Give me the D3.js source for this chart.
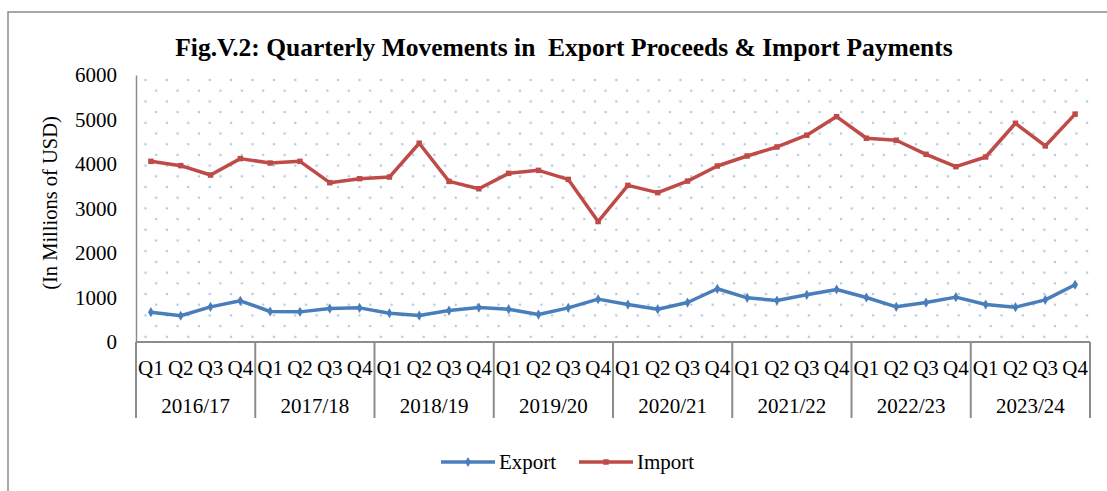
<!DOCTYPE html>
<html>
<head>
<meta charset="utf-8">
<script src="https://cdn.jsdelivr.net/npm/d3@7"></script>
<style>
    body { margin: 0; background: #fff; }
    svg text { font-family: "Liberation Serif", "Times New Roman", serif; fill: #000; }
</style>
</head>
<body>
<div id="chart"></div>
<script>
const WIDTH  = 1107
const HEIGHT = 491

const years    = ['2016/17', '2017/18', '2018/19', '2019/20', '2020/21', '2021/22', '2022/23', '2023/24']
const quarters = ['Q1', 'Q2', 'Q3', 'Q4']
const yTicks   = [0, 1000, 2000, 3000, 4000, 5000, 6000]

const exportValues = [
    670, 590, 790, 925,
    685, 677, 752, 767,
    647, 594, 707, 774,
    737, 617, 767, 963,
    842, 737, 887, 1196,
    993, 932, 1060, 1180,
    1000, 790, 887, 1008,
    842, 782, 947, 1286
]

const importValues = [
    4060, 3963, 3752, 4121,
    4022, 4060, 3580, 3670,
    3707, 4467, 3609, 3444,
    3790, 3857, 3654, 2707,
    3520, 3356, 3616, 3955,
    4180, 4383, 4647, 5065,
    4579, 4534, 4218, 3940,
    4158, 4915, 4406, 5120
]

const series = [
    { name: 'Export', values: exportValues, color: '#4a7ebb', marker: d3.symbolDiamond },
    { name: 'Import', values: importValues, color: '#be4b48', marker: d3.symbolSquare }
]

const categories = years.flatMap(y => quarters.map(q => ({ year: y, quarter: q, key: y + ' ' + q })))

const plot = { left: 136, right: 1090, top: 75, bottom: 342 }

const svg = d3.select('#chart').append('svg')
    .attr('width', WIDTH)
    .attr('height', HEIGHT)

// outer frame, cut off on the right and bottom like the source
svg.append('rect')
    .attr('x', 8).attr('y', 12)
    .attr('width', WIDTH).attr('height', HEIGHT)
    .attr('fill', '#fff')
    .attr('stroke', '#8c8c8c')
    .attr('stroke-width', 1.5)

const x = d3.scaleBand()
    .domain(categories.map(d => d.key))
    .range([plot.left, plot.right])

const xYear = d3.scaleBand()
    .domain(years)
    .range([plot.left, plot.right])

const y = d3.scaleLinear()
    .domain([0, 6000])
    .range([plot.bottom, plot.top])

// dotted fill pattern of the plot area
const defs = svg.append('defs')
const pat = defs.append('pattern')
    .attr('id', 'dots')
    .attr('patternUnits', 'userSpaceOnUse')
    .attr('x', 145.5).attr('y', 80)
    .attr('width', 21.4).attr('height', 21.4)

pat.append('circle').attr('cx', 0).attr('cy', 0).attr('r', 1.3).attr('fill', '#b3c8e6')
pat.append('circle').attr('cx', 10.7).attr('cy', 10.7).attr('r', 1.3).attr('fill', '#b3c8e6')
pat.append('circle').attr('cx', 21.4).attr('cy', 0).attr('r', 1.3).attr('fill', '#b3c8e6')
pat.append('circle').attr('cx', 0).attr('cy', 21.4).attr('r', 1.3).attr('fill', '#b3c8e6')
pat.append('circle').attr('cx', 21.4).attr('cy', 21.4).attr('r', 1.3).attr('fill', '#b3c8e6')

svg.append('rect')
    .attr('x', plot.left + 1)
    .attr('y', plot.top)
    .attr('width', plot.right - plot.left - 1)
    .attr('height', plot.bottom - plot.top)
    .attr('fill', 'url(#dots)')

// title
svg.append('text')
    .attr('x', 564)
    .attr('y', 56)
    .attr('text-anchor', 'middle')
    .style('white-space', 'pre')
    .attr('font-size', 25.5)
    .attr('font-weight', 'bold')
    .text('Fig.V.2: Quarterly Movements in  Export Proceeds & Import Payments')

// y axis
const yAxis = svg.append('g')
    .attr('transform', `translate(${plot.left},0)`)
    .call(d3.axisLeft(y).tickValues(yTicks).tickSize(0).tickPadding(19).tickFormat(d3.format('d')))

yAxis.select('.domain').attr('stroke', '#8c8c8c').attr('stroke-width', 1.5)
yAxis.selectAll('text')
    .attr('font-size', 21)
    .attr('font-family', '"Liberation Serif", serif')

svg.append('text')
    .attr('transform', 'translate(57,203) rotate(-90)')
    .attr('text-anchor', 'middle')
    .attr('font-size', 20.5)
    .text('(In Millions of USD)')

// category axis: quarter labels and year groups
const xAxis = svg.append('g')

xAxis.append('line')
    .attr('x1', plot.left).attr('x2', plot.right)
    .attr('y1', plot.bottom).attr('y2', plot.bottom)
    .attr('stroke', '#8c8c8c').attr('stroke-width', 2)

xAxis.selectAll('.sep')
    .data(years.concat(['end']))
    .join('line')
    .attr('class', 'sep')
    .attr('x1', d => d === 'end' ? plot.right : xYear(d))
    .attr('x2', d => d === 'end' ? plot.right : xYear(d))
    .attr('y1', plot.bottom).attr('y2', 418)
    .attr('stroke', '#8c8c8c').attr('stroke-width', 2)

xAxis.selectAll('.q')
    .data(categories)
    .join('text')
    .attr('class', 'q')
    .attr('x', d => x(d.key) + x.bandwidth() / 2)
    .attr('y', 375)
    .attr('text-anchor', 'middle')
    .attr('font-size', 21)
    .text(d => d.quarter)

xAxis.selectAll('.yr')
    .data(years)
    .join('text')
    .attr('class', 'yr')
    .attr('x', d => xYear(d) + xYear.bandwidth() / 2)
    .attr('y', 413)
    .attr('text-anchor', 'middle')
    .attr('font-size', 21)
    .text(d => d)

// lines
const line = d3.line()
    .x((d, i) => x(categories[i].key) + x.bandwidth() / 2)
    .y(d => y(d))

const lines = svg.append('g')

series.forEach(s => {
    lines.append('path')
        .datum(s.values)
        .attr('d', line)
        .attr('fill', 'none')
        .attr('stroke', s.color)
        .attr('stroke-width', 3.5)
        .attr('stroke-linejoin', 'round')

    lines.append('g')
        .selectAll('path')
        .data(s.values)
        .join('path')
        .attr('transform', (d, i) => `translate(${x(categories[i].key) + x.bandwidth() / 2},${y(d)})`)
        .attr('d', d3.symbol().type(s.marker).size(30)())
        .attr('fill', s.color)
})

// legend
const legend = svg.append('g')
    .selectAll('g')
    .data(series)
    .join('g')
    .attr('transform', (d, i) => `translate(${441 + i * 138},462)`)

legend.append('line')
    .attr('x1', 0).attr('x2', 54)
    .attr('stroke', d => d.color)
    .attr('stroke-width', 3.5)

legend.append('path')
    .attr('transform', 'translate(27,0)')
    .attr('d', d => d3.symbol().type(d.marker).size(30)())
    .attr('fill', d => d.color)

legend.append('text')
    .attr('x', 58)
    .attr('y', 7)
    .attr('font-size', 21)
    .text(d => d.name)
</script>
</body>
</html>
